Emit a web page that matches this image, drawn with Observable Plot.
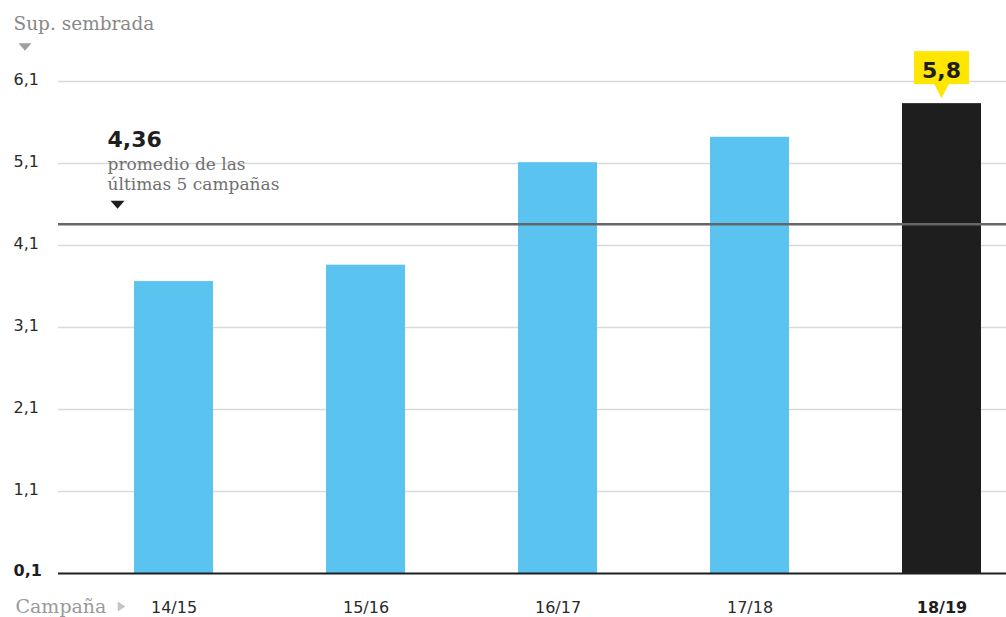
<!DOCTYPE html>
<html><head><meta charset="utf-8">
<script src="https://cdn.jsdelivr.net/npm/d3@7"></script>
<script src="https://cdn.jsdelivr.net/npm/@observablehq/plot@0.6"></script>
<style>
html,body{margin:0;padding:0;background:#fff;}
#chart svg{display:block;}
</style>
</head><body>
<div id="chart"></div>
<script>
// ---- data ----
const campaigns = ["14/15", "15/16", "16/17", "17/18", "18/19"];
const superficie = [3.66, 3.86, 5.11, 5.42, 5.83];
const yTicks = [0.1, 1.1, 2.1, 3.1, 4.1, 5.1, 6.1];
const promedio = 4.36;
const highlightCampaign = "18/19";
const highlightLabel = "5,8";
const yTitle = "Sup. sembrada";
const xTitle = "Campaña";
const avgLabel = "4,36";
const avgText = "promedio de las\núltimas 5 campañas";

// ---- derived ----
const yBase = yTicks[0];
const data = campaigns.map((c, i) => ({campaign: c, value: superficie[i]}));
const fmt = v => v.toFixed(1).replace(".", ",");

const downTri = {draw(ctx, size) { const r = Math.sqrt(size / Math.PI), h = r * 0.57;
  ctx.moveTo(-r, -h); ctx.lineTo(r, -h); ctx.lineTo(0, h); ctx.closePath(); }};
const rightTri = {draw(ctx, size) { const r = Math.sqrt(size / Math.PI), w = r * 0.75;
  ctx.moveTo(-w, -r); ctx.lineTo(w, 0); ctx.lineTo(-w, r); ctx.closePath(); }};

const serif = "'DejaVu Serif', serif";
const sans = "'DejaVu Sans', sans-serif";

const chart = Plot.plot({
  width: 1006, height: 617,
  marginTop: 81, marginBottom: 44, marginLeft: 58, marginRight: 0,
  x: {domain: campaigns, range: [133, 982], paddingInner: 0.59, paddingOuter: 0, axis: null},
  y: {domain: [yTicks[0], yTicks[yTicks.length - 1]], axis: null},
  style: {fontFamily: sans, background: "#fff"},
  marks: [
    Plot.ruleY(yTicks.slice(1), {stroke: "#d9d9d9", strokeWidth: 1.5}),
    Plot.text(yTicks.slice(1), {y: d => d, text: fmt, frameAnchor: "left", textAnchor: "start",
      dx: -45, dy: -2, fontSize: 16, fill: "#2a2a2a", fontFamily: sans}),
    Plot.text([yBase], {y: d => d, text: fmt, frameAnchor: "left", textAnchor: "start",
      dx: -45, dy: -3, fontSize: 16, fontWeight: "bold", fill: "#1e1e1e", fontFamily: sans}),
    Plot.barY(data, {x: "campaign", y1: () => yBase, y2: "value",
      fill: d => d.campaign === highlightCampaign ? "#1e1e1e" : "#5bc3f0"}),
    Plot.ruleY([yBase], {stroke: "#1e1e1e", strokeWidth: 2}),
    Plot.ruleY([promedio], {stroke: "#666", strokeWidth: 2.5}),
    Plot.text(campaigns.filter(c => c !== highlightCampaign), {x: d => d, text: d => d,
      frameAnchor: "bottom", lineAnchor: "bottom", dy: 39, fontSize: 16, fill: "#2a2a2a", fontFamily: sans}),
    Plot.text([highlightCampaign], {x: d => d, text: d => d, fontWeight: "bold",
      frameAnchor: "bottom", lineAnchor: "bottom", dy: 39, fontSize: 16, fill: "#1e1e1e", fontFamily: sans}),
    Plot.text([xTitle], {text: d => d, frameAnchor: "bottom-left", textAnchor: "start", lineAnchor: "bottom",
      dx: -43, dy: 39, fontSize: 19, fontFamily: serif, fill: "#999"}),
    Plot.dot([0], {frameAnchor: "bottom-left", dx: 63, dy: 33, symbol: rightTri, r: 5, fill: "#c4c4c4"}),
    // annotation for average
    Plot.text([promedio], {y: d => d, text: () => avgText, frameAnchor: "left", textAnchor: "start",
      lineAnchor: "bottom", dx: 49, dy: -34, fontSize: 17, lineHeight: 1.2, fontFamily: serif,
      fill: "#707070", ariaLabel: "avg-text"}),
    Plot.text([promedio], {y: d => d, text: () => avgLabel, frameAnchor: "left", textAnchor: "start",
      lineAnchor: "bottom", dx: 49, dy: -77, fontSize: 22, fontWeight: "bold", fontFamily: sans, fill: "#1e1e1e"}),
    Plot.dot([promedio], {y: d => d, frameAnchor: "left", dx: 59, dy: -19.5, symbol: downTri, r: 7, fill: "#1e1e1e"}),
    // y title
    Plot.text([yTitle], {text: d => d, frameAnchor: "top-left", textAnchor: "start", lineAnchor: "bottom",
      dx: -45, dy: -52, fontSize: 18.5, fontFamily: serif, fill: "#888"}),
    Plot.dot([0], {frameAnchor: "top-left", dx: -33.5, dy: -34.5, symbol: downTri, r: 6.5, fill: "#a0a0a0"})
  ]
});

document.getElementById("chart").appendChild(chart);

// white background behind the average annotation text
const svg = d3.select(chart);
const annG = svg.select("g[aria-label='avg-text']");
if (!annG.empty()) {
  const bb = annG.node().getBBox();
  svg.insert("rect", "g[aria-label='avg-text']")
    .attr("x", bb.x - 10).attr("y", bb.y - 1)
    .attr("width", bb.width + 24).attr("height", bb.height + 2)
    .attr("fill", "#fff");
}

// yellow value label above highlighted bar
const xs = chart.scale("x"), ys = chart.scale("y");
const cx = xs.apply(highlightCampaign) + xs.bandwidth / 2;
const barTop = ys.apply(superficie[campaigns.indexOf(highlightCampaign)]);
const lab = svg.append("g");
lab.append("rect").attr("x", cx - 27.5).attr("y", barTop - 52).attr("width", 55).attr("height", 33).attr("fill", "#ffe600");
lab.append("path").attr("d", `M${cx - 7.5},${barTop - 19.5}L${cx + 7.5},${barTop - 19.5}L${cx},${barTop - 5}Z`).attr("fill", "#ffe600");
lab.append("text").attr("x", cx).attr("y", barTop - 25).attr("text-anchor", "middle")
  .attr("font-family", sans).attr("font-weight", "bold").attr("font-size", 22).attr("fill", "#1e1e1e")
  .text(highlightLabel);
</script>
</body></html>
